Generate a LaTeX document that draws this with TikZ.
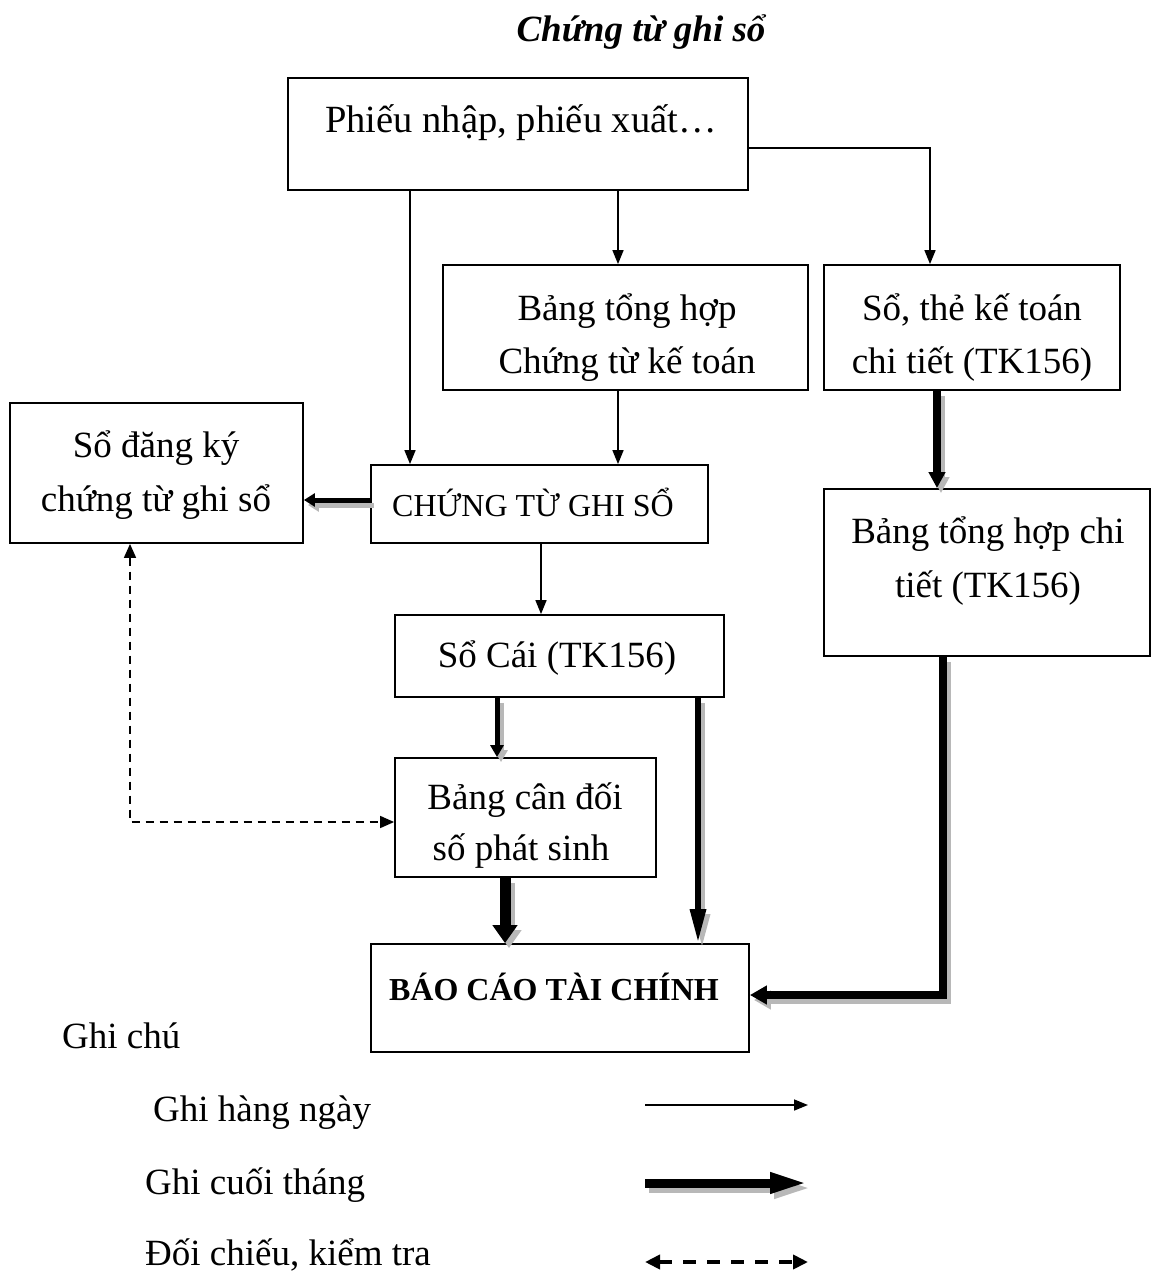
\documentclass[tikz,border=0pt]{standalone}
\usepackage{fontspec}
\setmainfont{Liberation Serif}
\usetikzlibrary{arrows.meta}
\definecolor{shade}{gray}{0.72}
% a month-end arrow: grey drop shadow first, then the black arrow on top
\newcommand\monthlyarrow[2]{%
  \draw[monthly, #1, draw=shade, transform canvas={xshift=4pt, yshift=-5pt}] #2;
  \draw[monthly, #1] #2;}
\begin{document}
\begin{tikzpicture}[x=1pt,y=-1pt,
  box/.style={draw, line width=1.8pt, inner sep=0pt},
  txt/.style={anchor=base, inner sep=0pt, font=\fontsize{37}{44}\selectfont},
  capt/.style={anchor=base, inner sep=0pt, font=\fontsize{32}{38}\selectfont},
  daily/.style={line width=1.6pt, -{Triangle[length=14pt,width=11pt]}},
  monthly/.style={line width=6pt},
  check/.style={line width=1.6pt, dash pattern=on 8pt off 6pt,
    {Triangle[length=14pt,width=12pt]}-{Triangle[length=14pt,width=12pt]}}
]
\useasboundingbox (0,0) rectangle (1151,1273);

% title
\node[txt, font=\fontsize{37}{44}\selectfont\bfseries\itshape] (title) at (641,42) {Chứng từ ghi sổ};

% boxes
\node[box, minimum width=460pt, minimum height=112pt] (phieu) at (518,134) {};
\node[box, minimum width=365pt, minimum height=125pt] (bthct) at (625.5,327.5) {};
\node[box, minimum width=296pt, minimum height=125pt] (sothe) at (972,327.5) {};
\node[box, minimum width=293pt, minimum height=140pt] (sodk) at (156.5,473) {};
\node[box, minimum width=337pt, minimum height=78pt] (ctgs) at (539.5,504) {};
\node[box, minimum width=326pt, minimum height=167pt] (bthchitiet) at (987,572.5) {};
\node[box, minimum width=329pt, minimum height=82pt] (socai) at (559.5,656) {};
\node[box, minimum width=261pt, minimum height=119pt] (bcd) at (525.5,817.5) {};
\node[box, minimum width=378pt, minimum height=108pt] (bctc) at (560,998) {};

% box texts
\node[txt, font=\fontsize{38.5}{44}\selectfont] (t-phieu) at (521,133) {Phiếu nhập, phiếu xuất…};
\node[txt] (t-bthct1) at (627,320) {Bảng tổng hợp};
\node[txt] (t-bthct2) at (627,373) {Chứng từ kế toán};
\node[txt] (t-sothe1) at (972,320) {Sổ, thẻ kế toán};
\node[txt] (t-sothe2) at (972,373) {chi tiết (TK156)};
\node[txt] (t-sodk1) at (156,457) {Sổ đăng ký};
\node[txt] (t-sodk2) at (156,511) {chứng từ ghi sổ};
\node[capt] (t-ctgs) at (533,516) {CHỨNG TỪ GHI SỔ};
\node[txt] (t-bthchitiet1) at (988,543) {Bảng tổng hợp chi};
\node[txt] (t-bthchitiet2) at (988,597) {tiết (TK156)};
\node[txt] (t-socai) at (557,667) {Sổ Cái (TK156)};
\node[txt] (t-bcd1) at (525,809) {Bảng cân đối};
\node[txt] (t-bcd2) at (521,860) {số phát sinh};
\node[capt, font=\fontsize{32}{38}\selectfont\bfseries] (t-bctc) at (554,1000) {BÁO CÁO TÀI CHÍNH};

% daily entries
\draw[daily] ([xshift=-108pt]phieu.south) -- ([xshift=-108pt]phieu.south |- ctgs.north);
\draw[daily] ([xshift=100pt]phieu.south) -- ([xshift=100pt]phieu.south |- bthct.north);
\draw[daily] ([yshift=-14pt]phieu.east) -| ([xshift=-42pt]sothe.north);
\draw[daily] ([xshift=-7.5pt]bthct.south) -- ([xshift=-7.5pt]bthct.south |- ctgs.north);
\draw[daily] ([xshift=1.5pt]ctgs.south) -- ([xshift=1.5pt]ctgs.south |- socai.north);

% month-end entries
\monthlyarrow{line width=5pt, -{Triangle[length=11pt,width=13pt]}}
  {([yshift=4pt]ctgs.west) -- ([yshift=4pt]ctgs.west -| sodk.east)}
\monthlyarrow{line width=5pt, -{Triangle[length=12pt,width=13pt]}}
  {([xshift=-62.5pt]socai.south) -- ([xshift=-62.5pt]socai.south |- bcd.north)}
\monthlyarrow{line width=6pt, -{Triangle[length=34pt,width=15pt]}}
  {([xshift=138.5pt]socai.south) -- ([xshift=138.5pt]socai.south |- bctc.north)}
\monthlyarrow{line width=11pt, -{Triangle[length=18pt,width=24pt]}}
  {([xshift=-20.5pt]bcd.south) -- ([xshift=-20.5pt]bcd.south |- bctc.north)}
\monthlyarrow{line width=8pt, -{Triangle[length=16pt,width=16pt]}}
  {([xshift=-35pt]sothe.south) -- ([xshift=-35pt]sothe.south |- bthchitiet.north)}
\monthlyarrow{line width=8pt, -{Triangle[length=17pt,width=18pt]}}
  {([xshift=-44pt]bthchitiet.south) |- ([yshift=3pt]bctc.east)}

% cross-check
\draw[check] ([xshift=-26.5pt]sodk.south) |- ([yshift=-4.5pt]bcd.west);

% legend
\node[txt, anchor=base west] (note) at (62,1048) {Ghi chú};
\node[txt, anchor=base west] (l-daily) at (153,1121) {Ghi hàng ngày};
\node[txt, anchor=base west] (l-monthly) at (145,1194) {Ghi cuối tháng};
\node[txt, anchor=base west] (l-check) at (145,1265) {Đối chiếu, kiểm tra};

\coordinate (a1) at (645,1105);
\coordinate (b1) at (808,1105);
\coordinate (a2) at (645,1183);
\coordinate (b2) at (808,1183);
\coordinate (a3) at (645,1262);
\coordinate (b3) at (808,1262);
\draw[daily] (a1) -- (b1);
\monthlyarrow{line width=9pt, -{Triangle[length=38pt,width=19pt]}}{(a2) -- (b2)}
\draw[line width=4pt, dash pattern=on 13pt off 11pt,
  {Triangle[length=15pt,width=14pt]}-{Triangle[length=15pt,width=14pt]}] (a3) -- (b3);
\end{tikzpicture}
\end{document}
